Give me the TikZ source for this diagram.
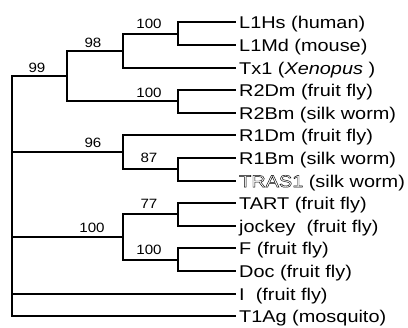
\documentclass[tikz,border=0pt]{standalone}
\usepackage{fontspec}
\setmainfont{Liberation Sans}
\newfontfamily\leaffont[FakeStretch=1.17]{Liberation Sans}
\newfontfamily\numfont[FakeStretch=1.12]{Liberation Sans}
\newcommand{\outlinetext}[1]{\special{pdf:literal direct 1 Tr 0.45 w}#1\special{pdf:literal direct 0 Tr}}
\begin{document}
\begin{tikzpicture}[x=1pt,y=-1pt,
  branch/.style={line width=1.8pt, line cap=rect},
  leaf/.style={anchor=west, inner xsep=4pt, inner ysep=0pt, text height=12.2pt, text depth=0pt,
    font=\leaffont\fontsize{17}{17}\selectfont},
  support/.style={anchor=base, inner sep=0pt, font=\numfont\fontsize{13.5}{13.5}\selectfont}]
\useasboundingbox (0,0) rectangle (408,328);
% leaves
\node[leaf] (l0)  at (235,22)  {L1Hs (human)};
\node[leaf] (l1)  at (235,45)  {L1Md (mouse)};
\node[leaf] (l2)  at (235,68)  {Tx1 (\textit{Xenopus} )};
\node[leaf] (l3)  at (235,90)  {R2Dm (fruit fly)};
\node[leaf] (l4)  at (235,113) {R2Bm (silk worm)};
\node[leaf] (l5)  at (235,135) {R1Dm (fruit fly)};
\node[leaf] (l6)  at (235,158) {R1Bm (silk worm)};
\node[leaf] (l7)  at (235,181) {\outlinetext{TRAS1} (silk worm)};
\node[leaf] (l8)  at (235,203) {TART (fruit fly)};
\node[leaf] (l9)  at (235,226) {jockey~~(fruit fly)};
\node[leaf] (l10) at (235,248) {F (fruit fly)};
\node[leaf] (l11) at (235,271) {Doc (fruit fly)};
\node[leaf] (l12) at (235,294) {I~~(fruit fly)};
\node[leaf] (l13) at (235,316) {T1Ag (mosquito)};
% internal nodes
\coordinate (nA) at (178,34);
\coordinate (nB) at (123,51);
\coordinate (nC) at (178,101);
\coordinate (nD) at (67,76);
\coordinate (nE) at (178,169);
\coordinate (nF) at (123,152);
\coordinate (nG) at (178,214);
\coordinate (nH) at (178,260);
\coordinate (nJ) at (123,237);
\coordinate (rtop) at (12,76);
\coordinate (rbot) at (12,316);
% branches
\draw[branch] (l0.west) -| (nA) |- (l1.west);
\draw[branch] (nA) -| (nB) |- (l2.west);
\draw[branch] (l3.west) -| (nC) |- (l4.west);
\draw[branch] (nB) -| (nD) |- (nC);
\draw[branch] (l6.west) -| (nE) |- (l7.west);
\draw[branch] (l5.west) -| (nF) |- (nE);
\draw[branch] (l8.west) -| (nG) |- (l9.west);
\draw[branch] (l10.west) -| (nH) |- (l11.west);
\draw[branch] (nG) -| (nJ) |- (nH);
\draw[branch] (nD) -- (rtop) -- (rbot) -- (l13.west);
\draw[branch] (nF) -- (nF -| rtop);
\draw[branch] (nJ) -- (nJ -| rtop);
\draw[branch] (l12.west) -- (l12.west -| rtop);
% support values
\node[support] (sA) at (149,28.3) {100};
\node[support] (sB) at (93,48) {98};
\node[support] (sD) at (37,73) {99};
\node[support] (sC) at (149,98) {100};
\node[support] (sF) at (93,148) {96};
\node[support] (sE) at (149,163) {87};
\node[support] (sG) at (149,209) {77};
\node[support] (sJ) at (92,233) {100};
\node[support] (sH) at (149,255) {100};
\end{tikzpicture}
\end{document}
